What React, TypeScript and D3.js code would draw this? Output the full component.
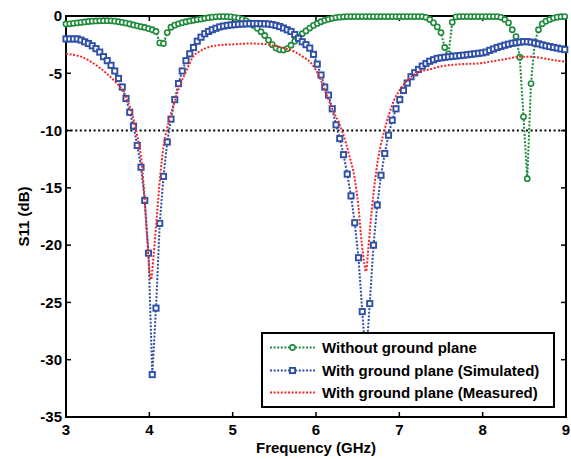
import React from "react";
import * as d3 from "d3";

const W = 571;
const H = 459;

// frequency grid of the simulated / without-ground sweeps (GHz)
const sweepStep = 0.045;
const sweepCount = 134;

const withoutGround = [
  -0.7, -0.68, -0.64, -0.6, -0.56, -0.52, -0.48, -0.45, -0.43, -0.42,
  -0.41, -0.41, -0.42, -0.45, -0.5, -0.56, -0.62, -0.7, -0.78, -0.86,
  -0.94, -1.0, -1.1, -1.2, -1.35, -2.35, -2.4, -1.45, -0.98, -0.8,
  -0.68, -0.58, -0.5, -0.43, -0.37, -0.31, -0.26, -0.2, -0.15, -0.1,
  -0.07, -0.05, -0.05, -0.06, -0.08, -0.12, -0.18, -0.27, -0.42, -0.6,
  -0.82, -1.08, -1.38, -1.7, -2.1, -2.5, -2.8, -2.95, -2.97, -2.85,
  -2.55, -2.2, -1.85, -1.55, -1.3, -1.05, -0.82, -0.65, -0.5, -0.38,
  -0.28, -0.2, -0.14, -0.1, -0.07, -0.05, -0.05, -0.05, -0.05, -0.05,
  -0.05, -0.05, -0.05, -0.05, -0.05, -0.05, -0.05, -0.05, -0.05, -0.05,
  -0.05, -0.05, -0.05, -0.05, -0.05, -0.05, -0.12, -0.3, -0.6, -0.95,
  -1.45, -2.75, -3.3, -0.55, -0.08, -0.05, -0.05, -0.05, -0.05, -0.05,
  -0.05, -0.05, -0.05, -0.05, -0.05, -0.05, -0.12, -0.3, -0.6, -1.2,
  -1.8, -3.6, -8.8, -14.2, -5.9, -2.3, -1.2, -0.68, -0.45, -0.3,
  -0.18, -0.1, -0.06, -0.05,
];

const simulated = [
  -2.0, -2.0, -2.0, -2.0, -2.1, -2.25, -2.4, -2.6, -2.85, -3.15,
  -3.55, -3.9, -4.3, -4.8, -5.45, -6.2, -7.2, -8.4, -9.6, -11.3,
  -13.2, -16.1, -20.7, -31.3, -25.5, -18.1, -14.0, -11.0, -9.0, -7.3,
  -5.9, -4.8, -3.9, -3.3, -2.75, -2.2, -1.85, -1.55, -1.35, -1.2,
  -1.07, -0.95, -0.88, -0.82, -0.78, -0.75, -0.72, -0.7, -0.68, -0.67,
  -0.66, -0.66, -0.67, -0.68, -0.7, -0.75, -0.82, -0.92, -1.05, -1.2,
  -1.35, -1.62, -1.95, -2.25, -2.5, -2.8, -3.35, -4.2, -5.15, -6.2,
  -6.9, -8.1, -9.5, -10.7, -12.1, -13.8, -15.7, -18.05, -21.1, -25.8,
  -30.0, -25.1, -20.0, -16.5, -13.9, -12.0, -10.4, -9.1, -8.1, -7.3,
  -6.5, -5.85, -5.3, -4.95, -4.66, -4.37, -4.15, -3.95, -3.82, -3.7,
  -3.65, -3.6, -3.56, -3.52, -3.49, -3.46, -3.42, -3.38, -3.34, -3.3,
  -3.26, -3.22, -3.15, -3.0, -2.88, -2.75, -2.65, -2.55, -2.46, -2.38,
  -2.33, -2.28, -2.24, -2.24, -2.28, -2.35, -2.43, -2.52, -2.6, -2.67,
  -2.74, -2.8, -2.87, -2.93,
];

const measuredFreq = [
  3.0, 3.1, 3.2, 3.3, 3.4, 3.5, 3.6, 3.65, 3.7, 3.75,
  3.8, 3.85, 3.9, 3.93, 3.97, 4.02, 4.05, 4.09, 4.13, 4.17,
  4.21, 4.25, 4.31, 4.37, 4.43, 4.48, 4.52, 4.6, 4.72, 4.86,
  5.02, 5.22, 5.38, 5.5, 5.62, 5.74, 5.84, 5.94, 6.04, 6.12,
  6.2, 6.28, 6.36, 6.4, 6.46, 6.51, 6.55, 6.58, 6.6, 6.62,
  6.65, 6.69, 6.73, 6.77, 6.82, 6.88, 6.94, 7.02, 7.12, 7.24,
  7.36, 7.52, 7.76, 7.96, 8.16, 8.32, 8.44, 8.56, 8.68, 8.84,
  9.0,
];
const measured = [
  -3.3, -3.4, -3.6, -4.0, -4.5, -5.1, -5.8, -6.2, -6.8, -7.6,
  -8.7, -10.3, -12.3, -14.6, -19.0, -23.0, -21.0, -17.5, -14.0, -11.4,
  -9.9, -8.8, -7.3, -6.0, -5.0, -4.2, -3.6, -3.1, -2.7, -2.53,
  -2.47, -2.4, -2.45, -2.6, -2.8, -3.1, -3.55, -4.1, -5.3, -6.75,
  -8.2, -9.4, -11.1, -12.2, -14.0, -16.7, -19.9, -21.6, -22.3, -21.0,
  -18.4, -15.5, -13.2, -11.5, -10.0, -8.5, -7.3, -6.3, -5.45, -4.86,
  -4.66, -4.37, -4.2, -4.13, -3.9, -3.7, -3.55, -3.55, -3.63, -3.84,
  -4.0,
];

const xTicks = [3, 4, 5, 6, 7, 8, 9];
const yTicks = [0, -5, -10, -15, -20, -25, -30, -35];
const threshold = -10;

const legendLabels = [
  "Without ground plane",
  "With ground plane (Simulated)",
  "With ground plane (Measured)",
];

const GREEN = "#1f8a3b";
const BLUE = "#2f4fa6";
const RED = "#f02828";
const FONT = "Arial, 'Liberation Sans', Helvetica, sans-serif";

export default function App() {
  const left = 66, right = 566, top = 16, bottom = 417;
  const x = d3.scaleLinear().domain([3, 9]).range([left, right]);
  const y = d3.scaleLinear().domain([-35, 0]).range([bottom, top]);

  const sweepFreq = d3.range(sweepCount).map((k) => 3 + sweepStep * k);
  const greenPts: [number, number][] = withoutGround.map((v, i) => [sweepFreq[i], v]);
  const bluePts: [number, number][] = simulated.map((v, i) => [sweepFreq[i], v]);
  const redPts: [number, number][] = measured.map((v, i) => [measuredFreq[i], v]);

  const line = d3.line<[number, number]>().x((d) => x(d[0])).y((d) => y(d[1]));
  const smooth = d3
    .line<[number, number]>()
    .x((d) => x(d[0]))
    .y((d) => y(d[1]))
    .curve(d3.curveMonotoneX);

  const tick = 5;
  const dots = "2,1.6";

  // legend layout
  const lg = { x0: 262, y0: 333, x1: 554, y1: 407 };
  const rowY = [347.5, 370.5, 392.5];
  const sampleX0 = 270, sampleX1 = 315, textX = 322;

  return (
    <svg
      width={W}
      height={H}
      style={{ position: "absolute", left: 0, top: 0, background: "#fff" }}
      fontFamily={FONT}
      fontWeight="bold"
    >
      <rect x={0} y={0} width={W} height={H} fill="#fff" />
      {/* threshold */}
      <line
        x1={x(3)}
        x2={x(9)}
        y1={y(threshold)}
        y2={y(threshold)}
        stroke="#000"
        strokeWidth={2}
        strokeDasharray="2,2.6"
      />
      {/* axes frame */}
      <rect
        x={left}
        y={top}
        width={right - left}
        height={bottom - top}
        fill="none"
        stroke="#000"
        strokeWidth={2}
      />
      {xTicks.map((t) => (
        <g key={"x" + t}>
          <line x1={x(t)} x2={x(t)} y1={bottom} y2={bottom - tick} stroke="#000" strokeWidth={1.5} />
          <line x1={x(t)} x2={x(t)} y1={top} y2={top + tick} stroke="#000" strokeWidth={1.5} />
          <text x={x(t)} y={435} textAnchor="middle" fontSize={15}>
            {t}
          </text>
        </g>
      ))}
      {yTicks.map((t) => (
        <g key={"y" + t}>
          <line x1={left} x2={left + tick} y1={y(t)} y2={y(t)} stroke="#000" strokeWidth={1.5} />
          <line x1={right} x2={right - tick} y1={y(t)} y2={y(t)} stroke="#000" strokeWidth={1.5} />
          <text x={62} y={y(t) + 5.3} textAnchor="end" fontSize={15}>
            {t}
          </text>
        </g>
      ))}
      <text x={(left + right) / 2} y={453} textAnchor="middle" fontSize={15}>
        Frequency (GHz)
      </text>
      <text
        transform={`translate(29,${(top + bottom) / 2}) rotate(-90)`}
        textAnchor="middle"
        fontSize={15}
      >
        S11 (dB)
      </text>

      {/* without ground plane */}
      <path d={line(greenPts) || ""} fill="none" stroke={GREEN} strokeWidth={2} strokeDasharray={dots} />
      {greenPts.map((d, i) => (
        <circle key={"g" + i} cx={x(d[0])} cy={y(d[1])} r={2.6} fill="#fff" stroke={GREEN} strokeWidth={1.6} />
      ))}

      {/* simulated */}
      <path d={line(bluePts) || ""} fill="none" stroke={BLUE} strokeWidth={2} strokeDasharray={dots} />
      {bluePts.map((d, i) => (
        <rect
          key={"b" + i}
          x={x(d[0]) - 2.6}
          y={y(d[1]) - 2.6}
          width={5.2}
          height={5.2}
          fill="#fff"
          stroke={BLUE}
          strokeWidth={1.9}
        />
      ))}

      {/* measured */}
      <path d={smooth(redPts) || ""} fill="none" stroke={RED} strokeWidth={2} strokeDasharray={dots} />

      {/* legend */}
      <rect
        x={lg.x0}
        y={lg.y0}
        width={lg.x1 - lg.x0}
        height={lg.y1 - lg.y0}
        fill="#fff"
        stroke="#000"
        strokeWidth={2}
      />
      {legendLabels.map((lab, i) => {
        const col = [GREEN, BLUE, RED][i];
        const cy = rowY[i];
        const mx = (sampleX0 + sampleX1) / 2;
        return (
          <g key={"l" + i}>
            <line x1={sampleX0} x2={sampleX1} y1={cy} y2={cy} stroke={col} strokeWidth={2} strokeDasharray={dots} />
            {i === 0 && <circle cx={mx} cy={cy} r={2.6} fill="#fff" stroke={col} strokeWidth={1.6} />}
            {i === 1 && (
              <rect x={mx - 2.6} y={cy - 2.6} width={5.2} height={5.2} fill="#fff" stroke={col} strokeWidth={1.9} />
            )}
            <text x={textX} y={cy + 5.3} fontSize={15}>
              {lab}
            </text>
          </g>
        );
      })}
    </svg>
  );
}
